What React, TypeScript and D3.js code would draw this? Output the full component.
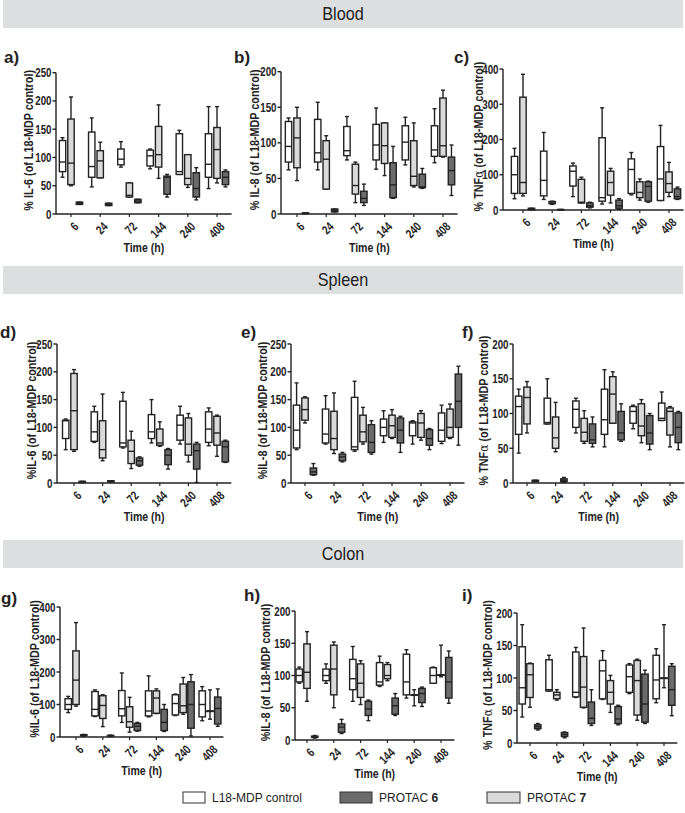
import React from 'react';
import * as d3 from 'd3';

const times = ['6', '24', '72', '144', '240', '408'];
// order of the boxes inside every time group
const series = ['L18-MDP control', 'PROTAC 7', 'PROTAC 6'];
const seriesFill = ['#ffffff', '#dadada', '#6b6b6b'];

// per time point: [control, PROTAC 7, PROTAC 6]; box = [min, q1, median, q3, max]
const bloodIL6 = [
  [[65, 75, 92, 130, 135], [50, 52, 90, 168, 207], [17, 17, 19, 21, 21]],
  [[48, 65, 84, 145, 170], [64, 64, 94, 112, 127], [15, 15, 17, 19, 19]],
  [[83, 87, 97, 115, 128], [30, 30, 33, 55, 55], [20, 20, 23, 26, 26]],
  [[80, 85, 103, 113, 115], [63, 83, 105, 155, 193], [30, 35, 65, 67, 70]],
  [[70, 70, 75, 142, 148], [47, 52, 63, 105, 105], [25, 30, 45, 73, 82]],
  [[45, 65, 88, 142, 190], [55, 63, 114, 153, 190], [48, 52, 65, 75, 78]],
];
const bloodIL8 = [
  [[62, 73, 95, 130, 135], [47, 65, 107, 135, 150], [0.5, 0.5, 1, 1.5, 1.5]],
  [[62, 73, 86, 133, 157], [35, 35, 77, 103, 110], [3, 3, 5, 7, 7]],
  [[76, 82, 89, 123, 137], [16, 28, 40, 70, 73], [12, 16, 22, 32, 42]],
  [[63, 76, 97, 126, 149], [54, 71, 96, 128, 128], [22, 23, 41, 72, 95]],
  [[69, 76, 101, 124, 136], [38, 40, 53, 103, 128], [36, 37, 38, 56, 64]],
  [[72, 81, 90, 124, 148], [80, 81, 96, 163, 174], [26, 41, 61, 80, 97]],
];
const bloodTNF = [
  [[32, 47, 100, 152, 175], [40, 47, 78, 320, 385], [1, 1, 3, 5, 5]],
  [[30, 40, 84, 167, 220], [16, 18, 20, 24, 25], [0.5, 0.5, 1, 1.5, 1.5]],
  [[38, 68, 110, 125, 133], [20, 20, 22, 87, 93], [6, 8, 12, 20, 22]],
  [[17, 25, 35, 205, 290], [20, 42, 78, 110, 118], [2, 5, 12, 28, 32]],
  [[43, 47, 115, 145, 163], [28, 35, 50, 80, 88], [22, 25, 67, 80, 82]],
  [[27, 27, 88, 180, 240], [38, 50, 75, 108, 135], [30, 32, 38, 60, 65]],
];
const spleenIL6 = [
  [[60, 80, 112, 113, 115], [57, 60, 130, 197, 204], [1, 1, 2, 3, 3]],
  [[73, 75, 92, 128, 138], [40, 45, 60, 112, 160], [2, 2, 3, 4, 4]],
  [[63, 65, 72, 147, 163], [26, 35, 57, 77, 93], [30, 32, 40, 45, 47]],
  [[72, 80, 92, 123, 150], [66, 68, 72, 97, 110], [25, 33, 50, 60, 62]],
  [[70, 77, 104, 122, 138], [38, 50, 70, 117, 125], [1, 25, 58, 70, 73]],
  [[67, 73, 97, 128, 135], [48, 68, 90, 120, 122], [37, 38, 65, 75, 77]],
];
const spleenIL8 = [
  [[60, 63, 95, 140, 180], [108, 113, 132, 153, 155], [14, 15, 20, 27, 35]],
  [[70, 72, 88, 133, 157], [53, 60, 80, 129, 162], [38, 40, 47, 52, 55]],
  [[57, 60, 65, 154, 183], [70, 74, 92, 122, 136], [52, 55, 73, 105, 112]],
  [[73, 85, 100, 115, 130], [80, 82, 103, 122, 132], [55, 72, 95, 117, 120]],
  [[70, 85, 108, 110, 112], [77, 82, 108, 125, 130], [60, 68, 80, 96, 98]],
  [[71, 75, 95, 126, 140], [80, 82, 100, 133, 142], [68, 100, 147, 196, 210]],
];
const spleenTNF = [
  [[43, 70, 110, 125, 135], [72, 85, 123, 138, 146], [2, 2, 3, 4, 4]],
  [[85, 85, 87, 122, 150], [45, 50, 65, 95, 116], [1, 2, 4, 6, 8]],
  [[72, 80, 106, 118, 122], [57, 60, 73, 93, 104], [52, 57, 62, 85, 95]],
  [[52, 70, 91, 135, 163], [86, 86, 128, 153, 160], [60, 62, 72, 103, 114]],
  [[78, 86, 103, 110, 112], [58, 68, 82, 114, 120], [48, 56, 72, 97, 100]],
  [[90, 90, 93, 115, 131], [52, 69, 103, 108, 110], [48, 58, 80, 101, 103]],
];
const colonIL6 = [
  [[75, 85, 100, 118, 125], [95, 100, 175, 265, 352], [3, 4, 5, 7, 8]],
  [[63, 65, 85, 140, 145], [32, 57, 97, 127, 130], [2, 3, 4, 5, 6]],
  [[45, 65, 87, 143, 197], [15, 30, 47, 93, 122], [18, 20, 33, 42, 45]],
  [[62, 65, 80, 142, 188], [72, 73, 120, 142, 148], [17, 20, 45, 85, 100]],
  [[66, 68, 103, 130, 132], [70, 75, 96, 163, 183], [3, 27, 100, 170, 192]],
  [[50, 62, 100, 142, 155], [55, 80, 80, 80, 145], [33, 40, 88, 123, 148]],
];
const colonIL8 = [
  [[88, 90, 100, 110, 113], [60, 80, 105, 149, 168], [3, 4, 5, 6, 7]],
  [[88, 92, 100, 110, 118], [50, 70, 110, 147, 152], [10, 12, 20, 25, 32]],
  [[60, 78, 95, 125, 145], [55, 66, 88, 118, 123], [30, 38, 48, 60, 62]],
  [[83, 85, 90, 120, 130], [92, 95, 100, 117, 120], [38, 40, 53, 65, 72]],
  [[65, 70, 90, 133, 140], [53, 70, 70, 70, 78], [52, 58, 72, 80, 82]],
  [[88, 88, 100, 112, 113], [98, 101, 101, 101, 147], [57, 65, 90, 128, 138]],
];
const colonTNF = [
  [[40, 60, 85, 148, 182], [55, 70, 105, 122, 123], [20, 22, 25, 28, 30]],
  [[80, 80, 82, 128, 135], [66, 68, 74, 78, 82], [8, 10, 13, 16, 17]],
  [[70, 71, 78, 140, 147], [54, 55, 86, 133, 177], [27, 30, 38, 63, 82]],
  [[67, 68, 111, 127, 142], [47, 60, 78, 96, 104], [28, 30, 37, 56, 58]],
  [[76, 78, 102, 120, 122], [35, 43, 96, 127, 129], [30, 32, 60, 106, 112]],
  [[62, 68, 97, 135, 145], [85, 100, 100, 100, 182], [42, 58, 82, 118, 122]],
];

const sections = [
  { name: 'Blood', y: 0 },
  { name: 'Spleen', y: 266 },
  { name: 'Colon', y: 540 },
];

const font = 'Arial, "Liberation Sans", Helvetica, sans-serif';
const ink = '#222';
const narrow = 0.78; // the original uses a condensed bold face for ticks

const panels = [
  { tag: 'a)', data: bloodIL6, max: 250, step: 50, lab: ['% IL-6 (of L18-MDP control)'], x0: 56, xs: 56.4, bw: 29.2, top: 72.7, bot: 214, tagX: 4, tagY: 63, labX: 33 },
  { tag: 'b)', data: bloodIL8, max: 200, step: 50, lab: ['% IL-8 (of L18-MDP control)'], x0: 281, xs: 282.4, bw: 29.2, top: 71.7, bot: 214, tagX: 234, tagY: 63, labX: 259 },
  { tag: 'c)', data: bloodTNF, max: 400, step: 100, lab: ['% TNF', 'α', '  (of L18-MDP control)'], x0: 503, xs: 508.4, bw: 29.2, top: 69, bot: 210, tagX: 454, tagY: 63, labX: 483 },
  { tag: 'd)', data: spleenIL6, max: 250, step: 50, lab: ['%IL-6 (of L18-MDP control)'], x0: 57, xs: 59.7, bw: 28.6, top: 344, bot: 483, tagX: 0, tagY: 338, labX: 36 },
  { tag: 'e)', data: spleenIL8, max: 250, step: 50, lab: ['%IL-8 (of L18-MDP control)'], x0: 291, xs: 290.5, bw: 29, top: 344, bot: 483, tagX: 241, tagY: 338, labX: 267 },
  { tag: 'f)', data: spleenTNF, max: 200, step: 50, lab: ['% TNF', 'α', '  (of L18-MDP control)'], x0: 513, xs: 512.7, bw: 28.6, top: 344, bot: 483, tagX: 462, tagY: 338, labX: 488 },
  { tag: 'g)', data: colonIL6, max: 400, step: 100, lab: ['%IL-6 (of L18-MDP control)'], x0: 60, xs: 62.6, bw: 26.8, top: 607, bot: 737, tagX: 1, tagY: 604, labX: 39 },
  { tag: 'h)', data: colonIL8, max: 200, step: 50, lab: ['%IL-8 (of L18-MDP control)'], x0: 295, xs: 293.6, bw: 26.8, top: 611, bot: 740, tagX: 244, tagY: 601, labX: 270 },
  { tag: 'i)', data: colonTNF, max: 200, step: 50, lab: ['% TNF', 'α', ' (of L18-MDP control)'], x0: 517, xs: 516.6, bw: 26.8, top: 613, bot: 743, tagX: 462, tagY: 601, labX: 492 },
];

const legendItems = [
  { fill: seriesFill[0], name: 'L18-MDP control', num: '', x: 183, w: 22 },
  { fill: seriesFill[2], name: 'PROTAC ', num: '6', x: 340, w: 32 },
  { fill: seriesFill[1], name: 'PROTAC ', num: '7', x: 487, w: 33 },
];

const BoxPanel = ({ p }) => {
  const x = d3.scaleBand().domain(times).range([p.xs, p.xs + p.bw * 6]);
  const sub = d3.scalePoint().domain(series).range([-p.bw * 0.29, p.bw * 0.29]);
  const y = d3.scaleLinear().domain([0, p.max]).range([p.bot, p.top]);
  const ticks = d3.range(0, p.max + 1, p.step);
  const boxW = 6.4;
  const capW = 4;
  const xEnd = p.xs + p.bw * 6;
  const yMid = (p.top + p.bot) / 2 - 3;

  return (
    <g fontFamily={font}>
      <text x={p.tagX} y={p.tagY} fontSize="17" fontWeight="bold" fill={ink}>{p.tag}</text>

      {/* y axis */}
      <line x1={p.x0} x2={p.x0} y1={p.top} y2={p.bot} stroke={ink} strokeWidth={1.4} />
      {ticks.map(t => (
        <g key={t}>
          <line x1={p.x0 - 3.5} x2={p.x0} y1={y(t)} y2={y(t)} stroke={ink} strokeWidth={1.4} />
          <text transform={`translate(${p.x0 - 4.5},${y(t)}) scale(${narrow},1)`} dy="0.36em" textAnchor="end" fontSize="12.5" fontWeight="bold" fill={ink}>{t}</text>
        </g>
      ))}
      <text transform={`translate(${p.labX},${yMid}) rotate(-90) scale(0.9,1)`} textAnchor="middle" fontSize="12" fontWeight="bold" fill={ink}>
        {p.lab.length === 1 ? p.lab[0] : (
          <>
            {p.lab[0]}<tspan fontWeight="normal" fontFamily="'DejaVu Serif', serif">{p.lab[1]}</tspan>{p.lab[2]}
          </>
        )}
      </text>

      {/* x axis */}
      <line x1={p.x0} x2={xEnd} y1={p.bot} y2={p.bot} stroke={ink} strokeWidth={1.4} />
      {times.map(t => {
        const cx = x(t) + x.bandwidth() / 2;
        return (
          <g key={t}>
            <line x1={cx} x2={cx} y1={p.bot} y2={p.bot + 3} stroke={ink} strokeWidth={1.2} />
            <text transform={`translate(${cx + 2},${p.bot + 7}) rotate(-45) scale(${narrow},1)`} textAnchor="end" dy="0.72em" fontSize="12.5" fontWeight="bold" fill={ink}>{t}</text>
          </g>
        );
      })}
      <text transform={`translate(${(p.x0 + xEnd) / 2},${p.bot + 38}) scale(0.88,1)`} textAnchor="middle" fontSize="12" fontWeight="bold" fill={ink}>Time (h)</text>

      {/* boxes */}
      {p.data.map((group, gi) => {
        const cx = x(times[gi]) + x.bandwidth() / 2;
        return group.map((b, si) => {
          const bx = cx + sub(series[si]);
          const [lo, q1, med, q3, hi] = b;
          return (
            <g key={gi + '-' + si} stroke={ink} strokeWidth={1.4}>
              <line x1={bx} x2={bx} y1={y(hi)} y2={y(q3)} />
              <line x1={bx} x2={bx} y1={y(q1)} y2={y(lo)} />
              <line x1={bx - capW / 2} x2={bx + capW / 2} y1={y(hi)} y2={y(hi)} />
              <line x1={bx - capW / 2} x2={bx + capW / 2} y1={y(lo)} y2={y(lo)} />
              <rect x={bx - boxW / 2} width={boxW} y={y(q3)} height={Math.max(y(q1) - y(q3), 0.5)} fill={seriesFill[si]} />
              <line x1={bx - boxW / 2} x2={bx + boxW / 2} y1={y(med)} y2={y(med)} />
            </g>
          );
        });
      })}
    </g>
  );
};

export default function App() {
  return (
    <svg width={685} height={813} style={{ position: 'absolute', left: 0, top: 0, background: '#fff' }}>
      {sections.map(s => (
        <g key={s.name}>
          <rect x={3} y={s.y} width={680} height={28} fill="#dddee0" />
          <text transform={`translate(343,${s.y + 20}) scale(0.9,1)`} textAnchor="middle" fontFamily={font} fontSize="18" fill={ink}>{s.name}</text>
        </g>
      ))}

      {panels.map(p => <BoxPanel key={p.tag} p={p} />)}

      {legendItems.map(l => (
        <g key={l.name + l.num} fontFamily={font}>
          <rect x={l.x} y={792} width={l.w} height={11} fill={l.fill} stroke="#333" strokeWidth={1} />
          <text x={l.x + l.w + 7} y={802} fontSize="12" fill={ink}>
            {l.name}<tspan fontWeight="bold">{l.num}</tspan>
          </text>
        </g>
      ))}
    </svg>
  );
}
